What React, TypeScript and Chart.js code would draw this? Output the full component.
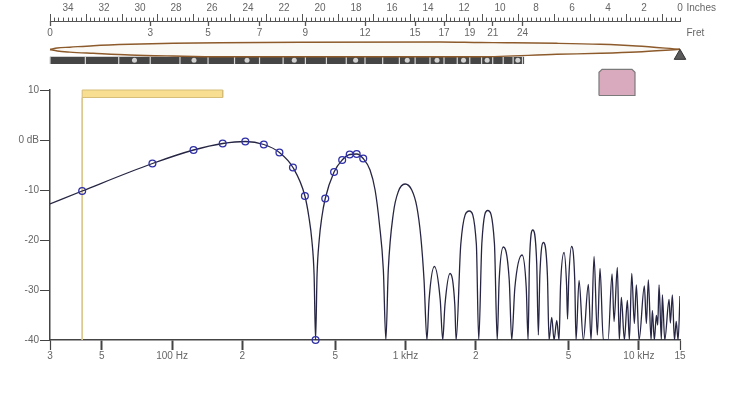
import React, { useEffect, useRef } from 'react';
import { Chart, registerables } from 'chart.js';

Chart.register(...registerables);

// ---------------- data ----------------
// Frequency response of the pickup (dB)
const responseFreqs = [
  30, 41.2, 82.4, 123.6, 164.8, 206, 247.2, 288.4, 329.6, 370.8, 386, 397, 406, 412, 418, 427, 438,
  453.2, 494.4, 535.6, 576.8, 618, 659.2, 705, 741, 773, 804, 824,
  844, 887, 932, 996, 1064, 1118, 1163, 1201, 1236,
  1262, 1330, 1409, 1444, 1476, 1552, 1627, 1648,
  1726, 1877, 2012, 2060, 2124, 2251, 2405, 2472,
  2520, 2626, 2783, 2852, 2941, 3159, 3292, 3352,
  3397, 3510, 3649, 3709, 3764, 3897, 4056, 4122,
  4233, 4330, 4448, 4549, 4617, 4779, 4900, 4947, 5006, 5147, 5310, 5379,
  5541, 5780, 6074, 6237, 6425, 6636, 6815, 7040, 7376, 7675, 7827, 8085, 8244,
  8410, 8665, 8925, 9102, 9320, 9560, 9753, 10017, 10554, 10765, 10977, 11274,
  11418, 11646, 11879, 12042, 12200, 12480, 12605, 12906, 13467, 13641, 13911,
  14200, 14450, 14720, 15000,
];
const responseDb = [
  -12.8, -10.2, -4.7, -2.0, -0.7, -0.3, -0.9, -2.5, -5.5, -11.2, -15.5, -20, -27, -40, -27, -20, -15.5,
  -11.7, -6.4, -4.0, -2.9, -2.8, -3.7, -6, -10, -16.7, -26, -40,
  -26, -14.7, -10.3, -8.8, -10, -13.3, -19.3, -28, -40,
  -32, -25.3, -32, -40, -33, -26.7, -33, -40,
  -20.8, -14.2, -20.8, -40, -20.7, -14.1, -20.7, -40,
  -28, -21.4, -28, -40, -29.6, -23, -29.6, -40,
  -24.6, -18, -24.6, -39, -27.1, -20.5, -27.1, -40,
  -35.5, -40, -36.1, -40, -29.1, -22.5, -29, -35.8, -27.9, -21.3, -27.9, -40,
  -28.1, -40, -28.9, -40, -23.3, -39, -25.7, -40, -40, -26.8, -36.3, -25.5, -40,
  -31.5, -40, -32.1, -40, -26.7, -36.7, -29, -40, -29.2, -36.7, -28, -40,
  -34.1, -40, -35.1, -37, -29, -40, -31, -40, -31.9, -36.6, -31,
  -40, -36.3, -40, -31.2,
];

// Harmonics of the open string (circles)
const harmonicFreqs = [41.2, 82.4, 123.6, 164.8, 206.0, 247.2, 288.4, 329.6, 370.8, 412.0, 453.2, 494.4, 535.6, 576.8, 618.0, 659.2];
const harmonicDb = [-10.2, -4.7, -2.0, -0.7, -0.3, -0.9, -2.5, -5.5, -11.2, -40, -11.7, -6.4, -4.0, -2.9, -2.8, -3.7];

// Fundamental and playable range of fundamentals (open .. 24th fret)
const fundamentalHz = 41.2;
const fundamentalRangeHz = [41.2, 164.8];

// Axis ticks
const freqTicks = [30, 50, 100, 200, 500, 1000, 2000, 5000, 10000, 15000];
const freqTickLabels = ['3', '5', '100 Hz', '2', '5', '1 kHz', '2', '5', '10 kHz', '15'];
const dbTicks = [10, 0, -10, -20, -30, -40];
const fretTickNumbers = [0, 3, 5, 7, 9, 12, 15, 17, 19, 21, 24];
const inlayFrets = [3, 5, 7, 9, 12, 15, 17, 19, 21, 24];

// Instrument (inches from the bridge)
const scaleLengthIn = 35;
const fretCount = 24;
const fretboardEndIn = 8.65;
const pickupSpanIn = [2.5, 4.5];

// String vibration envelope (inches from bridge, displacement)
const stringUpperIn = [35, 34.6, 33.9, 32.6, 30.56, 28.15, 25.56, 21.1, 13.33, 11.11, 9.63, 6.85, 4.44, 2.41, 0];
const stringUpperDisp = [0, 1.5, 2.3, 3.8, 5.2, 6.2, 6.8, 7.3, 7.5, 7.0, 6.8, 6.2, 5.2, 3.5, 0.2];
const stringLowerIn = [35, 34.6, 33.9, 32.6, 30.56, 28.15, 25.56, 13.33, 11.11, 6.85, 4.44, 2.41, 0];
const stringLowerDisp = [0, -1.5, -2.6, -3.8, -5.5, -6.5, -7.2, -7.2, -7.2, -4.8, -3.8, -2.5, 0.2];

// ---------------- styling / layout ----------------
const FONT = '"Liberation Sans", Arial, Helvetica, sans-serif';
const LABEL = '#666';
const AXIS = '#444';
const lane = {
  top: 28.5, bottom: -40.5,
  boardTop: -7.2, boardBottom: -14.5, fretY: -10.85, fretR: 3.6,
  bridgeY: -6.5, pickupTop: -19.8, pickupBottom: -46, chamfer: 3, chamferIn: 0.17,
  rangeTopDb: 10, rangeBottomDb: 8.5,
};

const fretFromBridge = (n: number) => scaleLengthIn * Math.pow(2, -n / 12);
const pts = (xs: number[], ys: number[]) => xs.map((x, i) => ({ x, y: ys[i] }));

const notesPlugin = {
  id: 'axisNotes',
  afterDraw(chart: any) {
    const s = chart.scales.xIn;
    const x0 = s.getPixelForValue(0);
    const ctx = chart.ctx;
    ctx.save();
    ctx.font = `10px ${FONT}`;
    ctx.fillStyle = LABEL;
    ctx.textBaseline = 'middle';
    ctx.textAlign = 'left';
    ctx.fillText('Inches', x0 + 6.5, s.bottom - 12.5);
    ctx.fillText('Fret', x0 + 6.5, s.bottom + 12.5);
    ctx.restore();
  },
};

export default function App() {
  const ref = useRef<HTMLCanvasElement>(null);

  useEffect(() => {
    document.body.style.margin = '0';
    const canvas = ref.current!;
    const frets = Array.from({ length: fretCount + 1 }, (_, n) => n);
    const [pl, pr] = pickupSpanIn;

    const chart = new Chart(canvas, {
      type: 'line',
      data: {
        datasets: [
          {
            type: 'scatter', label: 'harmonics', xAxisID: 'x', yAxisID: 'y',
            data: pts(harmonicFreqs, harmonicDb),
            pointStyle: 'circle', pointRadius: 3.4, pointBackgroundColor: 'rgba(0,0,0,0)',
            pointBorderColor: '#2f2fa8', pointBorderWidth: 1.3, clip: false, order: 1,
          } as any,
          {
            type: 'line', label: 'response', xAxisID: 'x', yAxisID: 'y',
            data: pts(responseFreqs, responseDb),
            borderColor: '#262644', borderWidth: 1.3, pointRadius: 0,
            cubicInterpolationMode: 'monotone', fill: false, order: 2,
          },
          {
            type: 'line', label: 'range', xAxisID: 'x', yAxisID: 'y',
            data: [
              { x: fundamentalRangeHz[0], y: lane.rangeTopDb },
              { x: fundamentalRangeHz[1], y: lane.rangeTopDb },
              { x: fundamentalRangeHz[1], y: lane.rangeBottomDb },
              { x: fundamentalRangeHz[0], y: lane.rangeBottomDb },
              { x: fundamentalRangeHz[0], y: lane.rangeTopDb },
            ],
            fill: 'shape', backgroundColor: '#f7de90', borderColor: '#d6bd78', borderWidth: 1,
            pointRadius: 0, clip: false, order: 5,
          },
          {
            type: 'line', label: 'fundamental', xAxisID: 'x', yAxisID: 'y',
            data: [{ x: fundamentalHz, y: lane.rangeBottomDb }, { x: fundamentalHz, y: -40 }],
            borderColor: '#dcc78c', borderWidth: 1, pointRadius: 0, fill: false, order: 6,
          },
          {
            type: 'line', label: 'stringUpper', xAxisID: 'xIn', yAxisID: 'yTop',
            data: pts(stringUpperIn, stringUpperDisp),
            borderColor: '#8c5a2b', borderWidth: 1.4, pointRadius: 0,
            cubicInterpolationMode: 'monotone', fill: false, clip: false, order: 4,
          },
          {
            type: 'line', label: 'stringLower', xAxisID: 'xIn', yAxisID: 'yTop',
            data: pts(stringLowerIn, stringLowerDisp),
            borderColor: '#8c5a2b', borderWidth: 1.4, pointRadius: 0,
            cubicInterpolationMode: 'monotone', fill: '-1', backgroundColor: 'rgba(205,165,115,0.07)',
            clip: false, order: 4,
          },
          {
            type: 'line', label: 'fretboard', xAxisID: 'xIn', yAxisID: 'yTop',
            data: [{ x: scaleLengthIn, y: lane.boardTop }, { x: fretboardEndIn, y: lane.boardTop }],
            fill: { value: lane.boardBottom }, backgroundColor: '#454545', borderColor: '#454545',
            borderWidth: 0, pointRadius: 0, clip: false, order: 9,
          },
          {
            type: 'scatter', label: 'frets', xAxisID: 'xIn', yAxisID: 'yTop',
            data: frets.map((n) => ({ x: fretFromBridge(n), y: lane.fretY })),
            pointStyle: 'line', pointRotation: 90, pointRadius: lane.fretR,
            pointBorderColor: '#d8d8d8', pointBorderWidth: 1.2, clip: false, order: 8,
          } as any,
          {
            type: 'scatter', label: 'inlays', xAxisID: 'xIn', yAxisID: 'yTop',
            data: inlayFrets.map((n) => ({ x: (fretFromBridge(n - 1) + fretFromBridge(n)) / 2, y: lane.fretY })),
            pointStyle: 'circle', pointRadius: 2.5, pointBackgroundColor: '#d2d2d2',
            pointBorderWidth: 0, clip: false, order: 8,
          } as any,
          {
            type: 'scatter', label: 'bridge', xAxisID: 'xIn', yAxisID: 'yTop',
            data: [{ x: 0, y: lane.bridgeY }],
            pointStyle: 'triangle', pointRadius: 6.7, pointBackgroundColor: '#5a5a5a',
            pointBorderColor: '#333', pointBorderWidth: 1, clip: false, order: 3,
          } as any,
          {
            type: 'line', label: 'pickup', xAxisID: 'xIn', yAxisID: 'yTop',
            data: [
              { x: pr, y: lane.pickupBottom },
              { x: pr, y: lane.pickupTop - lane.chamfer },
              { x: pr - lane.chamferIn, y: lane.pickupTop },
              { x: pl + lane.chamferIn, y: lane.pickupTop },
              { x: pl, y: lane.pickupTop - lane.chamfer },
              { x: pl, y: lane.pickupBottom },
              { x: pr, y: lane.pickupBottom },
            ],
            fill: 'shape', backgroundColor: '#d9aabd', borderColor: '#7a7a7a', borderWidth: 1.2,
            pointRadius: 0, clip: false, order: 3,
          },
        ],
      },
      options: {
        responsive: false,
        animation: false,
        events: [],
        layout: { padding: { left: 0, right: 60, top: 0, bottom: 0 } },
        plugins: { legend: { display: false }, tooltip: { enabled: false } },
        scales: {
          x: {
            type: 'logarithmic', position: 'bottom', min: 30, max: 15000,
            afterBuildTicks: (s: any) => { s.ticks = freqTicks.map((v) => ({ value: v })); },
            afterFit: (s: any) => { s.height = 60; },
            ticks: {
              autoSkip: false, maxRotation: 0, minRotation: 0, padding: 0, color: LABEL,
              font: { family: FONT, size: 10 },
              callback: (_v: any, i: number) => freqTickLabels[i],
            },
            grid: {
              display: true, drawOnChartArea: false, tickLength: 10, tickColor: AXIS,
              tickWidth: (c: any) => (c.index === 0 || c.index === freqTicks.length - 1 ? 1.2 : 2),
            },
            border: { display: true, color: AXIS, width: 1.5 },
          },
          y: {
            type: 'linear', position: 'left', min: -40, max: 10, stack: 'v', stackWeight: 250, weight: 0,
            afterBuildTicks: (s: any) => { s.ticks = dbTicks.map((v) => ({ value: v })); },
            afterFit: (s: any) => { s.width = 50; },
            ticks: {
              padding: 1, color: LABEL, font: { family: FONT, size: 10 },
              callback: (v: any) => (Number(v) === 0 ? '0 dB' : String(v)),
            },
            grid: { display: true, drawOnChartArea: false, tickLength: 10, tickColor: AXIS, tickWidth: 1 },
            border: { display: true, color: AXIS, width: 1.5 },
          },
          yTop: {
            type: 'linear', axis: 'y', position: 'left', min: lane.bottom, max: lane.top,
            stack: 'v', stackWeight: 69, weight: 1,
            afterFit: (s: any) => { s.width = 50; },
            ticks: { display: false }, grid: { display: false }, border: { display: false },
          },
          xIn: {
            type: 'linear', axis: 'x', position: 'top', min: 0, max: scaleLengthIn, reverse: true,
            afterBuildTicks: (s: any) => {
              const t = [];
              for (let i = 0; i <= scaleLengthIn * 4; i++) t.push({ value: i * 0.25 });
              s.ticks = t;
            },
            afterFit: (s: any) => { s.height = 21; },
            ticks: {
              autoSkip: false, maxRotation: 0, minRotation: 0, padding: 0, color: LABEL,
              font: { family: FONT, size: 10 },
              callback: (v: any) => {
                const n = Number(v);
                return Number.isInteger(n) && n % 2 === 0 ? String(n) : '';
              },
            },
            grid: {
              display: true, drawOnChartArea: false, tickLength: 7, tickColor: '#555', tickWidth: 1,
              tickBorderDash: (c: any) => {
                const v = c.tick ? c.tick.value : 0;
                return Number.isInteger(v) && v % 2 === 1 ? [] : [0, 3.6, 10];
              },
            },
            border: { display: true, color: '#555', width: 1 },
          },
          xFret: {
            type: 'linear', axis: 'x', position: { yTop: lane.top }, min: 0, max: scaleLengthIn, reverse: true,
            afterBuildTicks: (s: any) => { s.ticks = fretTickNumbers.map((n) => ({ value: fretFromBridge(n) })); },
            ticks: {
              autoSkip: false, maxRotation: 0, minRotation: 0, padding: 1, color: LABEL,
              font: { family: FONT, size: 10 },
              callback: (_v: any, i: number) => String(fretTickNumbers[i]),
            },
            grid: { display: true, drawOnChartArea: false, tickLength: 5, tickColor: '#555', tickWidth: 1.3 },
            border: { display: false },
          },
        } as any,
      },
      plugins: [notesPlugin],
    } as any);

    return () => chart.destroy();
  }, []);

  return (
    <div style={{ width: 740, height: 400 }}>
      <canvas ref={ref} width={740} height={400} style={{ display: 'block' }} />
    </div>
  );
}
